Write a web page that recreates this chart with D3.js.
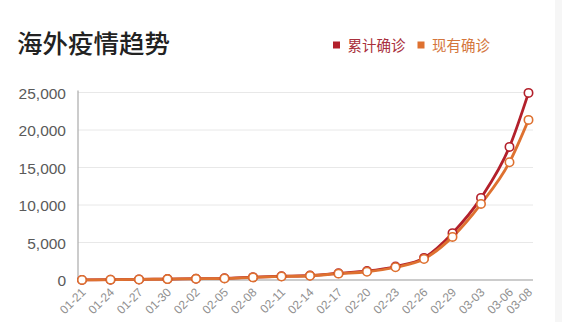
<!DOCTYPE html>
<html>
<head>
<meta charset="utf-8">
<script src="https://cdn.jsdelivr.net/npm/d3@7"></script>
<style>
  html, body { margin: 0; padding: 0; background: #fff; }
  svg { display: block; }
</style>
</head>
<body>
<svg id="chart" width="562" height="322"></svg>
<script>
// Day labels (2020), one point every three days plus the last day
const dates = ["01-21","01-24","01-27","01-30","02-02","02-05","02-08","02-11","02-14",
               "02-17","02-20","02-23","02-26","02-29","03-03","03-06","03-08"];
// Cumulative confirmed cases outside China
const cumulative = [10, 40, 80, 130, 170, 230, 380, 500, 600,
                    900, 1200, 1800, 2950, 6250, 10950, 17750, 24950];
// Currently active cases outside China
const active = [10, 40, 70, 120, 160, 210, 350, 470, 560,
                850, 1100, 1700, 2800, 5750, 10150, 15700, 21350];
const yTicks = [0, 5000, 10000, 15000, 20000, 25000];
const seriesNames = ["累计确诊", "现有确诊"];
const seriesColors = ["#b3202b", "#de7130"];
const legendTextColors = ["#a9303c", "#d4763c"];

const svg = d3.select("#chart");
const font = "'Liberation Sans', Arial, 'Noto Sans CJK SC', sans-serif";
const cjk = "'Noto Sans CJK SC', sans-serif";

// right-hand light strip
svg.append("rect").attr("x", 555).attr("y", 0).attr("width", 7).attr("height", 322)
  .attr("fill", "#f6f6f6");

// Title
svg.append("text").attr("x", 17).attr("y", 53)
  .attr("font-family", cjk).attr("font-size", 25.5).attr("font-weight", 500)
  .attr("fill", "#222").text("海外疫情趋势");

// Legend
const legendItems = [{x: 333}, {x: 417.5}];
legendItems.forEach((d, i) => {
  const g = svg.append("g");
  g.append("rect").attr("x", d.x).attr("y", 41.5).attr("width", 7).attr("height", 7)
    .attr("fill", seriesColors[i]);
  g.append("text").attr("x", d.x + 14.5).attr("y", 50.5)
    .attr("font-family", cjk).attr("font-size", 14.5)
    .attr("fill", legendTextColors[i]).text(seriesNames[i]);
});

// Scales: day offsets from 01-21
const start = new Date(2020, 0, 21);
const dayOf = s => {
  const [m, d] = s.split("-").map(Number);
  return Math.round((new Date(2020, m - 1, d) - start) / 86400000);
};
const x = d3.scaleLinear().domain([0, 47]).range([82, 528.5]);
const y = d3.scaleLinear().domain([0, 25000]).range([280, 92.5]);
const plotLeft = 78, plotRight = 533;

// Gridlines
svg.append("g").selectAll("line").data(yTicks.filter(t => t > 0)).join("line")
  .attr("x1", plotLeft).attr("x2", plotRight)
  .attr("y1", d => y(d)).attr("y2", d => y(d))
  .attr("stroke", "#e8e8e8").attr("stroke-width", 1);

// Y axis
const yAxis = d3.axisLeft(y).tickValues(yTicks).tickFormat(d3.format(",")).tickSize(0).tickPadding(12);
const gy = svg.append("g").attr("transform", `translate(${plotLeft},0)`).call(yAxis);
gy.select(".domain").attr("stroke", "#aaa").attr("stroke-width", 1.2)
  .attr("d", `M0,${y(25000) - 2}V${y(0)}`);
gy.selectAll("text").attr("font-family", font).attr("font-size", 15.5).attr("fill", "#5a5a5a")
  .attr("dy", "0.36em");

// X axis
const xAxis = d3.axisBottom(x).tickValues(dates.map(dayOf))
  .tickFormat((d, i) => dates[i]).tickSize(0).tickPadding(0);
const gx = svg.append("g").attr("transform", `translate(0,${y(0)})`).call(xAxis);
gx.select(".domain").attr("stroke", "#999").attr("stroke-width", 1.2)
  .attr("d", `M${plotLeft},0H${plotRight}`);
gx.selectAll("text")
  .attr("font-family", font).attr("font-size", 12).attr("fill", "#909090")
  .attr("text-anchor", "end").attr("dy", 0).attr("y", 0)
  .attr("transform", "translate(4,13) rotate(-45)");

// Lines and markers
const line = d3.line().x(d => x(d.day)).y(d => y(d.v)).curve(d3.curveMonotoneX);
const series = [cumulative, active].map((vals, i) => ({
  color: seriesColors[i],
  points: vals.map((v, j) => ({day: dayOf(dates[j]), v}))
}));

series.forEach(s => {
  svg.append("path").datum(s.points).attr("d", line)
    .attr("fill", "none").attr("stroke", s.color).attr("stroke-width", 2.8)
    .attr("stroke-linejoin", "round");
});
series.forEach(s => {
  svg.append("g").selectAll("circle").data(s.points).join("circle")
    .attr("cx", d => x(d.day)).attr("cy", d => y(d.v)).attr("r", 4.2)
    .attr("fill", "#fff").attr("stroke", s.color).attr("stroke-width", 1.6);
});
</script>
</body>
</html>
